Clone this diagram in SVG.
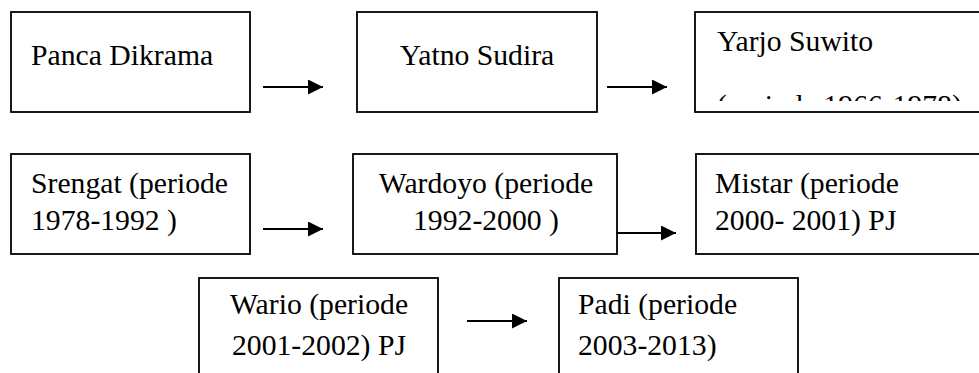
<svg xmlns="http://www.w3.org/2000/svg" width="979" height="373" viewBox="0 0 979 373">
<style>
.box{fill:#fff;stroke:#000;stroke-width:1.8}
.t{font-family:"Liberation Serif","Times New Roman",serif;font-size:29.7px;fill:#000}
.c{text-anchor:middle}
.conn{stroke:#000;stroke-width:1.8;fill:none}
</style>
<defs>
<marker id="ah" markerUnits="userSpaceOnUse" markerWidth="16" markerHeight="16" refX="15" refY="7.5" orient="auto">
<path d="M0,0 L15,7.5 L0,15 z" fill="#000"/>
</marker>
<clipPath id="c3"><rect x="696" y="13" width="290" height="88"/></clipPath>
</defs>
<rect width="979" height="373" fill="#fff"/>
<g id="n1"><rect class="box" x="11" y="12" width="239" height="100"/><text class="t" x="31" y="65">Panca Dikrama</text></g>
<g id="n2"><rect class="box" x="357" y="12" width="240" height="100"/><text class="t c" x="477" y="65">Yatno Sudira</text></g>
<g id="n3"><rect class="box" x="695" y="12" width="300" height="100"/><text class="t" x="717" y="51">Yarjo Suwito</text><g clip-path="url(#c3)"><text class="t" x="717" y="115">(periode 1966-1978)</text></g></g>
<g id="n4"><rect class="box" x="11" y="154" width="239" height="100"/><text class="t" x="31" y="193">Srengat (periode</text><text class="t" x="31" y="230">1978-1992 )</text></g>
<g id="n5"><rect class="box" x="353" y="154" width="264" height="100"/><text class="t c" x="486" y="193">Wardoyo (periode</text><text class="t c" x="486" y="230">1992-2000 )</text></g>
<g id="n6"><rect class="box" x="696" y="154" width="300" height="100"/><text class="t" x="715" y="193">Mistar (periode</text><text class="t" x="715" y="230">2000- 2001) PJ</text></g>
<g id="n7"><rect class="box" x="199" y="278" width="239" height="110"/><text class="t c" x="319" y="314">Wario (periode</text><text class="t c" x="319" y="355">2001-2002) PJ</text></g>
<g id="n8"><rect class="box" x="559" y="278" width="239" height="110"/><text class="t" x="578" y="314">Padi (periode</text><text class="t" x="578" y="355">2003-2013)</text></g>
<g id="connectors">
<line class="conn" x1="263" y1="87" x2="323" y2="87" marker-end="url(#ah)"/>
<line class="conn" x1="607" y1="87" x2="667" y2="87" marker-end="url(#ah)"/>
<line class="conn" x1="263" y1="229" x2="323" y2="229" marker-end="url(#ah)"/>
<line class="conn" x1="617" y1="233" x2="676" y2="233" marker-end="url(#ah)"/>
<line class="conn" x1="467" y1="321" x2="527" y2="321" marker-end="url(#ah)"/>
</g>
</svg>
